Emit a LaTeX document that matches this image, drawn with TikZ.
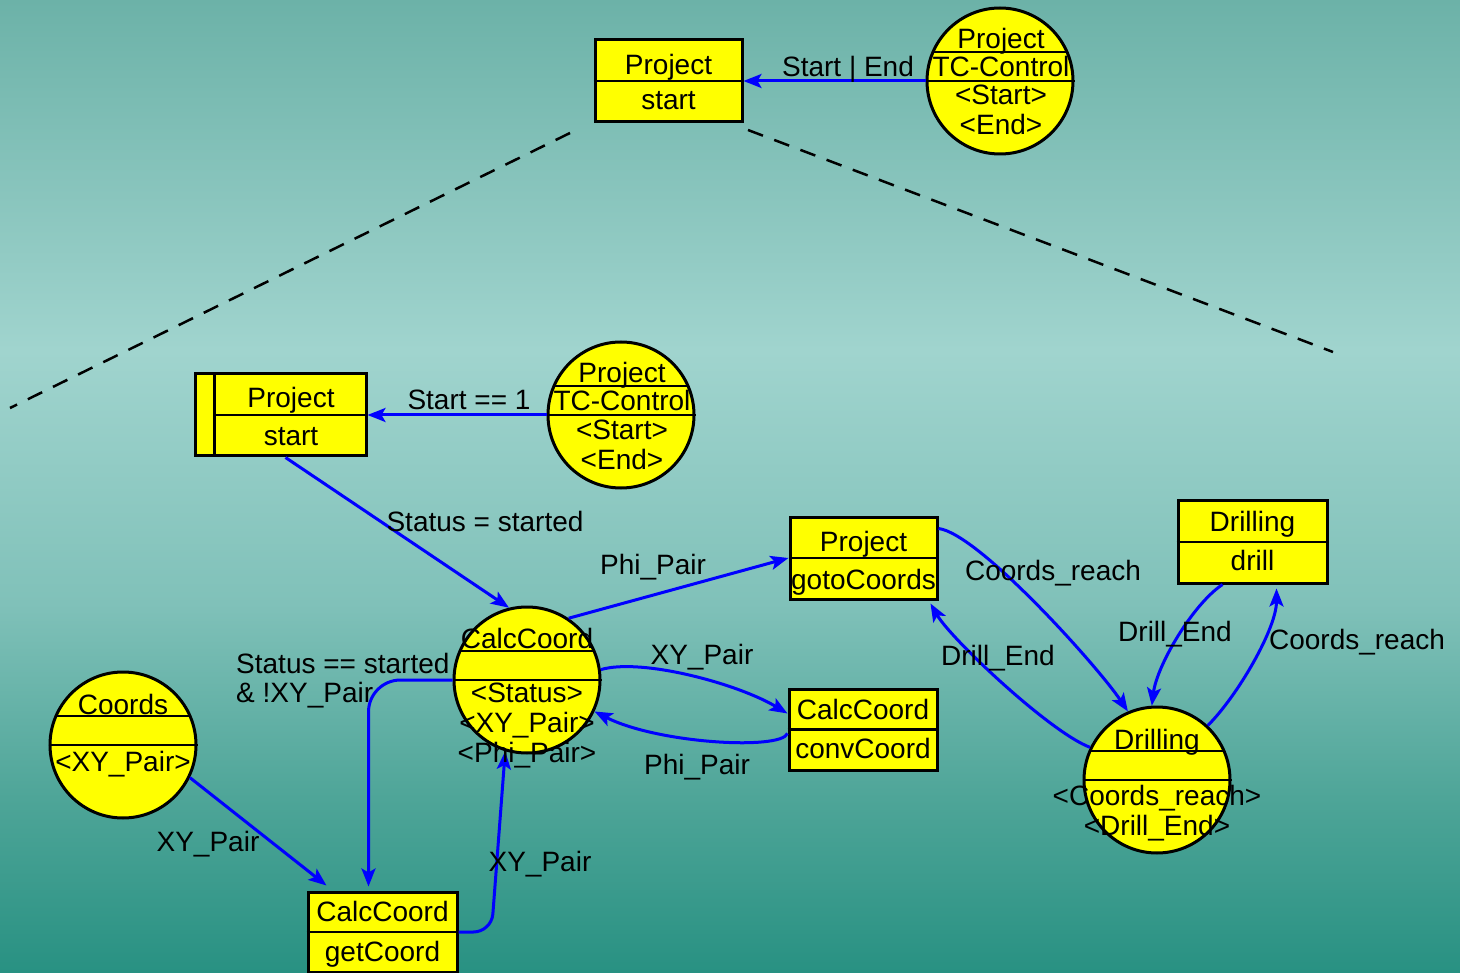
\documentclass[tikz,border=0pt]{standalone}
\usepackage{fontspec}
\setmainfont{Liberation Sans}
\usetikzlibrary{arrows.meta,calc}

\definecolor{bgA}{RGB}{40,145,130}
\definecolor{bgB}{RGB}{78,165,152}
\definecolor{bgC}{RGB}{128,193,185}
\definecolor{bgD}{RGB}{160,212,206}
\definecolor{bgE}{RGB}{108,178,168}
\definecolor{objfill}{RGB}{255,255,0}
\definecolor{flow}{RGB}{0,0,255}

% vertical backdrop: the path box spans 25bp (bottom) .. 75bp (top)
\pgfdeclareverticalshading{backdrop}{100bp}{%
  color(0bp)=(bgA); color(25bp)=(bgA); color(34bp)=(bgB); color(44bp)=(bgC);
  color(57bp)=(bgD); color(75bp)=(bgE); color(100bp)=(bgE)}

\newcommand\lblfont{\fontsize{28}{30}\selectfont}

\begin{document}
\begin{tikzpicture}[x=1pt,y=-1pt,
  objr/.style={draw=black, fill=objfill, line width=3pt, inner sep=0pt, rectangle},
  objc/.style={draw=black, fill=objfill, line width=3pt, inner sep=0pt, circle, minimum size=146pt},
  divline/.style={draw=black, line width=2.5pt},
  txt/.style={font=\lblfont, inner sep=0pt, anchor=base},
  conn/.style={draw=flow, line width=3pt, -{Stealth[length=18pt,width=14pt,inset=4pt]}},
  guide/.style={draw=black, line width=2.5pt, dash pattern=on 16pt off 12pt}]

\shade[shading=backdrop] (0,0) rectangle (1460,973);
\useasboundingbox (0,0) rectangle (1460,973);

% ---------- overview: project start and TC-Control ----------
\node[objr, minimum width=147pt, minimum height=82pt] (ps) at (668.5,81) {};
\draw[divline] (ps.west) -- (ps.east);
\node[txt] (psA) at (668.5,74.5) {Project};
\node[txt] (psB) at (668.5,110) {start};

\node[objc] (tcA) at (1000,81) {};
\draw[divline] ($(tcA.center)+(-67,-29)$) -- ++(134,0);
\draw[divline] (tcA.west) -- (tcA.east);
\node[txt] (tcAa) at (1001,49) {Project};
\node[txt] (tcAb) at (1001,77) {TC-Control};
\node[txt] (tcAc) at (1001,105) {<Start>};
\node[txt] (tcAd) at (1001,135) {<End>};

\draw[conn] (tcA.west) -- (ps.east);
\node[txt] (lA) at (848,77) {Start | End};

% zoom guides
\coordinate (gA1) at (570,133);
\coordinate (gA2) at (10,408);
\coordinate (gB1) at (748,130);
\coordinate (gB2) at (1333,352);
\draw[guide] (gA1) -- (gA2);
\draw[guide] (gB1) -- (gB2);

% ---------- detail ----------
\node[objr, minimum width=171pt, minimum height=82pt] (ps2) at (280.5,415) {};
\draw[divline] ($(ps2.west)+(21,0)$) -- (ps2.east);
\draw[divline] ($(ps2.north west)+(21,0)$) -- ($(ps2.south west)+(21,0)$);
\node[txt] (ps2A) at (291,408) {Project};
\node[txt] (ps2B) at (291,446) {start};

\node[objc] (tcB) at (621,415) {};
\draw[divline] ($(tcB.center)+(-67,-29)$) -- ++(134,0);
\draw[divline] (tcB.west) -- (tcB.east);
\node[txt] (tcBa) at (622,383) {Project};
\node[txt] (tcBb) at (622,411) {TC-Control};
\node[txt] (tcBc) at (622,440) {<Start>};
\node[txt] (tcBd) at (622,470) {<End>};

\node[objc] (cc) at (527,680) {};
\draw[divline] ($(cc.center)+(-67,-29)$) -- ++(134,0);
\draw[divline] (cc.west) -- (cc.east);

\node[objr, minimum width=147pt, minimum height=82pt] (goto) at (863.5,558) {};
\draw[divline] (goto.west) -- (goto.east);
\node[txt] (gotoA) at (863.5,551) {Project};
\node[txt] (gotoB) at (863.5,589) {gotoCoords};

\node[objr, minimum width=148pt, minimum height=81pt] (conv) at (863,729.5) {};
\draw[divline] (conv.west) -- (conv.east);
\node[txt] (convA) at (863,719) {CalcCoord};
\node[txt] (convB) at (863,758) {convCoord};

\node[objr, minimum width=149pt, minimum height=82pt] (drill) at (1252.5,542) {};
\draw[divline] (drill.west) -- (drill.east);
\node[txt] (drillA) at (1252.5,531) {Drilling};
\node[txt] (drillB) at (1252.5,570) {drill};

\node[objc] (dc) at (1157,780) {};
\draw[divline] ($(dc.center)+(-67,-29)$) -- ++(134,0);
\draw[divline] (dc.west) -- (dc.east);

\node[objc] (co) at (123,745) {};
\draw[divline] ($(co.center)+(-67,-29)$) -- ++(134,0);
\draw[divline] (co.west) -- (co.east);
\node[txt] (coA) at (123,714) {Coords};
\node[txt] (coB) at (123,771) {<XY\_Pair>};

\node[objr, minimum width=149pt, minimum height=80pt] (getc) at (382.5,932) {};
\draw[divline] (getc.west) -- (getc.east);
\node[txt] (getcA) at (382.5,921) {CalcCoord};
\node[txt] (getcB) at (382.5,961) {getCoord};

% connectors
\draw[conn] (tcB.west) -- (ps2.east);
\draw[conn] ($(ps2.south)+(5,0)$) -- (cc.104);
\draw[conn] (cc.56) -- (goto.west);
\draw[conn] (cc.8) .. controls +(40,-12) and +(-50,-30) .. ($(conv.west)+(0,-16)$);
\draw[conn] ($(conv.west)+(0,4)$) .. controls +(-7,17) and +(63,32) .. (cc.-25);
\draw[conn, rounded corners=32pt] (cc.west) -| ($(getc.north)+(-14,-4)$);
\draw[conn] (co.-26) -- ($(getc.north west)+(20,-5)$);
\draw[conn, rounded corners=18pt] (getc.east) -- ++(33,0) -- (cc.-107);
\draw[conn] ($(goto.north east)+(0,13)$) .. controls +(40,5) and +(-30,-45) .. (dc.113);
\draw[conn] (dc.154) .. controls +(-40,-15) and +(20,35) .. ($(goto.south east)+(-8,3)$);
\draw[conn] ($(drill.south)+(-30,0)$) .. controls +(-30,20) and +(5,-40) .. (dc.94);
\draw[conn] (dc.47) .. controls +(30,-30) and +(0,40) .. ($(drill.south)+(24,4)$);

% texts of the circles drawn over the connectors
\node[txt] (ccA) at (527,648) {CalcCoord};
\node[txt] (ccB) at (527,702) {<Status>};
\node[txt] (ccC) at (527,732) {<XY\_Pair>};
\node[txt] (ccD) at (527,762) {<Phi\_Pair>};
\node[txt] (dcA) at (1157,749) {Drilling};
\node[txt] (dcB) at (1157,805) {<Coords\_reach>};
\node[txt] (dcC) at (1157,835) {<Drill\_End>};

% connector labels
\node[txt] (lB) at (469,410) {Start == 1};
\node[txt] (lC) at (485,531) {Status = started};
\node[txt] (lD) at (653,574) {Phi\_Pair};
\node[txt] (lE) at (702,664) {XY\_Pair};
\node[txt] (lF) at (697,774) {Phi\_Pair};
\node[txt, anchor=base west] (lG) at (236,673) {Status == started};
\node[txt, anchor=base west] (lH) at (236,702) {\& !XY\_Pair};
\node[txt] (lI) at (208,851) {XY\_Pair};
\node[txt] (lJ) at (540,871) {XY\_Pair};
\node[txt] (lK) at (1053,580) {Coords\_reach};
\node[txt] (lL) at (998,665) {Drill\_End};
\node[txt] (lM) at (1175,641) {Drill\_End};
\node[txt] (lN) at (1357,649) {Coords\_reach};
\end{tikzpicture}
\end{document}
